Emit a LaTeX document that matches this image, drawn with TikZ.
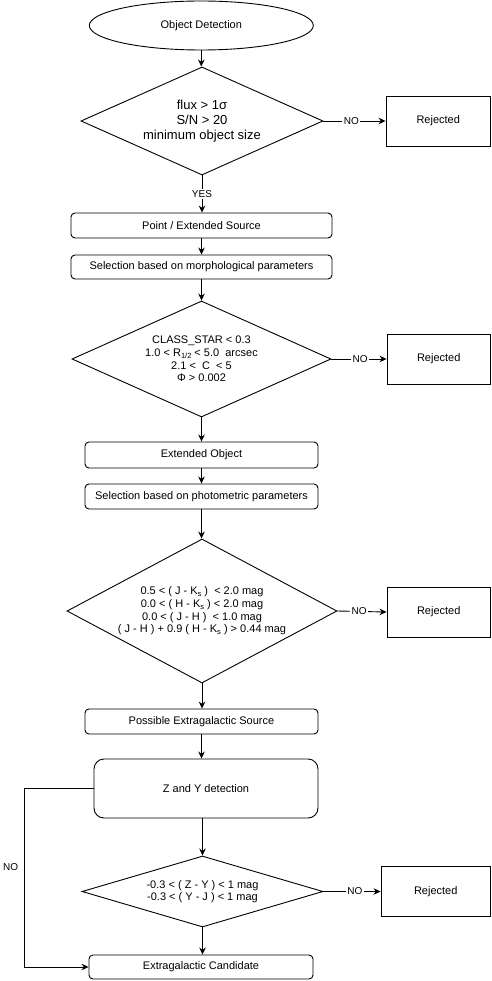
\documentclass[tikz,border=0pt]{standalone}
\usepackage{fontspec}
\setmainfont{Liberation Sans}
\usetikzlibrary{shapes.geometric,arrows.meta}
\newcommand\lowsub[1]{\raisebox{-0.35ex}{\fontsize{7.5}{8}\selectfont #1}}
\begin{document}
\begin{tikzpicture}[x=1pt,y=-1pt,
  every node/.style={font=\fontsize{11}{12.6}\selectfont, inner sep=0pt, align=center},
  base/.style={draw, line width=0.9pt},
  proc/.style={base, rounded corners=4pt},
  bigproc/.style={base, rounded corners=10pt},
  rejbox/.style={base, minimum width=104pt, minimum height=50pt},
  decision/.style={base, diamond},
  startnode/.style={base, ellipse},
  arr/.style={line width=0.9pt, -{Stealth[length=7pt,width=6.5pt]}},
  lab/.style={font=\fontsize{10}{10}\selectfont, fill=white, inner sep=1.5pt}
]
\useasboundingbox (0,0) rectangle (491,981);

\node[startnode, minimum width=224pt, minimum height=49pt] (start) at (201.3,25.5) {Object Detection};
\node[decision, shape aspect=2.24, minimum width=242pt, minimum height=108pt, font=\fontsize{13}{14.8}\selectfont] (d1) at (202,121) {flux > 1σ\\S/N > 20\\minimum object size};
\node[rejbox, minimum width=104.5pt] (rej1) at (438.25,121) {Rejected};
\node[proc, minimum width=261pt, minimum height=25pt] (p1) at (201.5,225.5) {Point / Extended Source};
\node[proc, minimum width=261pt, minimum height=24pt] (p2) at (201.5,267) {Selection based on morphological parameters};
\node[decision, shape aspect=2.23, minimum width=259pt, minimum height=116pt] (d2) at (201.5,359) {CLASS\_STAR < 0.3\\1.0 < R\lowsub{1/2} < 5.0 \ arcsec\\2.1 < \ C \ < 5\\Φ > 0.002};
\node[rejbox, minimum width=103.5pt] (rej2) at (438.75,359) {Rejected};
\node[proc, minimum width=233pt, minimum height=26pt] (p3) at (201.5,455) {Extended Object};
\node[proc, minimum width=233pt, minimum height=25pt] (p4) at (201.5,496.5) {Selection based on photometric parameters};
\node[decision, shape aspect=1.875, minimum width=270pt, minimum height=144pt] (d3) at (202,611) {0.5 < ( J - K\lowsub{s} ) \ < 2.0 mag\\0.0 < ( H - K\lowsub{s} ) < 2.0 mag\\0.0 < ( J - H ) \ < 1.0 mag\\( J - H ) + 0.9 ( H - K\lowsub{s} ) > 0.44 mag};
\node[rejbox, minimum width=103.5pt] (rej3) at (438.75,612) {Rejected};
\node[proc, minimum width=233pt, minimum height=25pt] (p5) at (201.5,721.5) {Possible Extragalactic Source};
\node[bigproc, minimum width=224pt, minimum height=59pt] (zy) at (206,788.5) {Z and Y detection};
\node[decision, shape aspect=3.39, minimum width=241pt, minimum height=71pt] (d4) at (202.5,891.5) {-0.3 < ( Z - Y ) < 1 mag\\-0.3 < ( Y - J ) < 1 mag};
\node[rejbox, minimum width=109.5pt] (rej4) at (435.75,891.5) {Rejected};
\node[proc, minimum width=224pt, minimum height=24pt] (cand) at (201,967) {Extragalactic Candidate};

\coordinate (c1) at (24,788.5);
\coordinate (c2) at (24,967);

\draw[arr] (start.south) -- (start.south |- d1.north);
\draw[arr] (d1.east) -- node[lab, pos=0.45] {NO} (rej1.west);
\draw[arr] (d1.south) -- node[lab, pos=0.5] {YES} (d1.south |- p1.north);
\draw[arr] (p1.south) -- (p1.south |- p2.north);
\draw[arr] (p2.south) -- (p2.south |- d2.north);
\draw[arr] (d2.east) -- node[lab, pos=0.52] {NO} (rej2.west);
\draw[arr] (d2.south) -- (d2.south |- p3.north);
\draw[arr] (p3.south) -- (p3.south |- p4.north);
\draw[arr] (p4.south) -- (p4.south |- d3.north);
\draw[arr] (d3.east) -- node[lab, pos=0.44] {NO} (rej3.west);
\draw[arr] (d3.south) -- (d3.south |- p5.north);
\draw[arr] (p5.south) -- (p5.south |- zy.north);
\draw[arr] (d4.north |- zy.south) -- (d4.north);
\draw[arr] (d4.east) -- node[lab, pos=0.55] {NO} (rej4.west);
\draw[arr] (d4.south) -- (d4.south |- cand.north);
\draw[arr] (zy.west) -- (c1) -- node[lab, fill=none, left=4pt, pos=0.44] {NO} (c2) -- (cand.west);
\end{tikzpicture}
\end{document}
